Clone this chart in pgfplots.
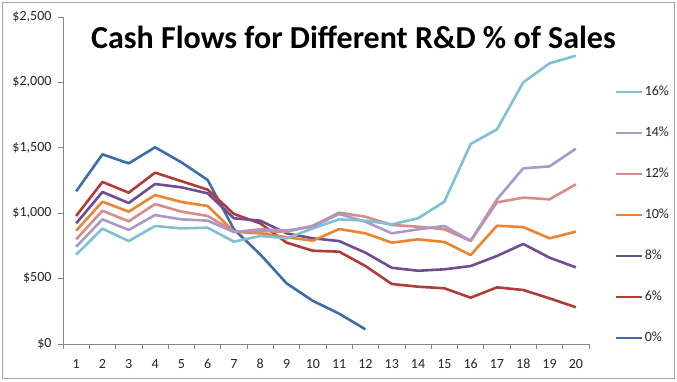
\documentclass[border=0pt]{standalone}
\usepackage{pgfplots}
\pgfplotsset{compat=1.18}
\usepackage{fontspec}
\setmainfont{Carlito}
\definecolor{c0}{HTML}{3C6DAA}
\definecolor{c6}{HTML}{B03C38}
\definecolor{c8}{HTML}{6E4D92}
\definecolor{c10}{HTML}{EA842E}
\definecolor{c12}{HTML}{D68C88}
\definecolor{c14}{HTML}{AB98C6}
\definecolor{c16}{HTML}{7EC1D4}
\definecolor{axgray}{HTML}{868686}
\begin{document}
\begin{tikzpicture}[x=1pt,y=1pt]
\useasboundingbox (0,0) rectangle (677,381);
\draw[color=black!35, line width=0.8pt] (2,3) rectangle (674,379);
\begin{axis}[
  at={(63pt,37pt)}, anchor=south west,
  scale only axis, width=526pt, height=327pt,
  xmin=0.5, xmax=20.5, ymin=0, ymax=2500,
  axis lines=left, axis line style={draw=axgray, line width=0.8pt, -},
  clip=false,
  xtick={1,...,20},
  major x tick style={draw=none},
  minor xtick={0.5,1.5,...,20.5},
  minor x tick style={draw=axgray, line width=0.8pt},
  minor tick length=5pt,
  ytick={0,500,1000,1500,2000,2500},
  yticklabels={{\$0},{\$500},{\$1,000},{\$1,500},{\$2,000},{\$2,500}},
  y tick style={draw=axgray, line width=0.8pt},
  major tick length=5pt,
  tick align=outside,
  tick label style={font=\fontsize{14}{16}\selectfont, text=black!85},
  /pgf/number format/assume math mode=true,
  typeset ticklabels with strut,
  xticklabel style={yshift=-5pt},
  yticklabel style={xshift=-3pt},
  legend style={draw=none, fill=none, at={(1.0494,0.791)}, anchor=north west,
    inner sep=0pt, row sep=28pt,
    font=\fontsize{14}{16}\selectfont, text=black!85,
    nodes={inner sep=1pt, text height=9pt, text depth=2pt}},
  legend cell align=left,
  reverse legend,
  legend image code/.code={\draw[#1] (0pt,0pt) -- (26pt,0pt);},
  every axis plot/.append style={line width=2.6pt, line join=round, mark=none},
]
\addplot[c0] coordinates {(1,1167)(2,1450)(3,1381)(4,1504)(5,1389)(6,1254)(7,877)(8,685)(9,464)(10,330)(11,232)(12,112)};
\addlegendentry{0\%}
\addplot[c6] coordinates {(1,979)(2,1239)(3,1157)(4,1310)(5,1245)(6,1180)(7,994)(8,922)(9,775)(10,713)(11,706)(12,596)(13,459)(14,438)(15,426)(16,354)(17,433)(18,413)(19,349)(20,281)};
\addlegendentry{6\%}
\addplot[c8] coordinates {(1,922)(2,1162)(3,1078)(4,1223)(5,1198)(6,1152)(7,961)(8,943)(9,846)(10,808)(11,787)(12,698)(13,583)(14,560)(15,571)(16,596)(17,673)(18,765)(19,660)(20,586)};
\addlegendentry{8\%}
\addplot[c10] coordinates {(1,866)(2,1088)(3,1012)(4,1139)(5,1086)(6,1055)(7,859)(8,846)(9,816)(10,790)(11,879)(12,846)(13,775)(14,800)(15,780)(16,680)(17,904)(18,894)(19,808)(20,859)};
\addlegendentry{10\%}
\addplot[c12] coordinates {(1,800)(2,1019)(3,938)(4,1070)(5,1012)(6,979)(7,860)(8,862)(9,859)(10,904)(11,1004)(12,973)(13,910)(14,897)(15,877)(16,787)(17,1083)(18,1119)(19,1106)(20,1221)};
\addlegendentry{12\%}
\addplot[c14] coordinates {(1,744)(2,953)(3,872)(4,986)(5,953)(6,943)(7,856)(8,877)(9,868)(10,897)(11,994)(12,935)(13,846)(14,877)(15,902)(16,790)(17,1106)(18,1343)(19,1358)(20,1493)};
\addlegendentry{14\%}
\addplot[c16] coordinates {(1,683)(2,882)(3,787)(4,902)(5,884)(6,889)(7,782)(8,826)(9,808)(10,884)(11,953)(12,943)(13,915)(14,961)(15,1088)(16,1529)(17,1641)(18,2000)(19,2146)(20,2204)};
\addlegendentry{16\%}
\end{axis}
\node[font=\fontsize{32}{36}\selectfont\bfseries] at (353.5,344) {Cash Flows for Different R\&D \% of Sales};
\end{tikzpicture}
\end{document}
